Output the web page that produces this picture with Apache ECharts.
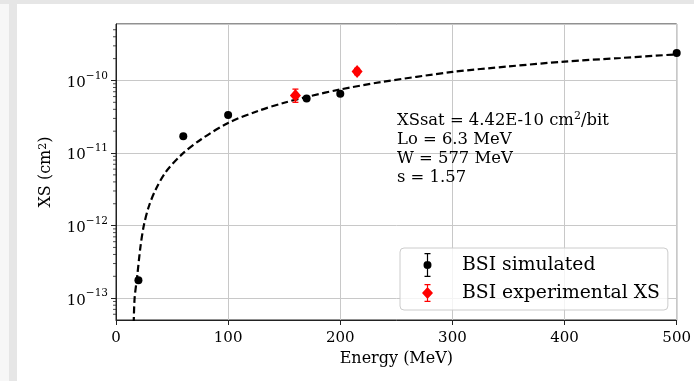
<!DOCTYPE html>
<html>
<head>
<meta charset="utf-8">
<script src="https://cdn.jsdelivr.net/npm/echarts@6/dist/echarts.min.js"></script>
<style>html,body{margin:0;padding:0;background:#fff}#c{width:694px;height:381px}</style>
</head>
<body>
<div id="c"></div>
<script>
// ---- data (cross-section values in cm^2, energies in MeV) ----
var simEnergy = [20, 60, 100, 170, 200, 500];
var simXS = [1.76e-13, 1.7e-11, 3.33e-11, 5.65e-11, 6.55e-11, 2.4e-10];
var expEnergy = [160, 215];
var expXS = [6.2e-11, 1.33e-10];
var expLow = [5.0e-11, 1.2e-10];
var expHigh = [7.6e-11, 1.47e-10];
var fitEnergy = [15.6, 16.5, 18.9, 21.8, 24.8, 29.2, 35.2, 44.1, 58.5, 76, 100, 126, 150, 173, 200, 236, 300, 350, 400, 450, 500];
var fitXS = [3.16e-14, 9.5e-14, 2.0e-13, 5.1e-13, 1.0e-12, 1.82e-12, 3.1e-12, 5.4e-12, 9.5e-12, 1.55e-11, 2.6e-11, 3.77e-11, 4.93e-11, 6.08e-11, 7.52e-11, 9.48e-11, 1.31e-10, 1.56e-10, 1.82e-10, 2.04e-10, 2.29e-10];
var xTicks = [0, 100, 200, 300, 400, 500];
var yMinVal = 5e-14, yMaxVal = 6e-10;
var minorTickVals = [];
[-14, -13, -12, -11, -10].forEach(function (n) {
  for (var k = 2; k <= 9; k++) {
    var v = k * Math.pow(10, n);
    if (v > yMinVal && v < yMaxVal) minorTickVals.push(v);
  }
});
var fitParams = ['XSsat = 4.42E-10 cm{sup|2}/bit', 'Lo = 6.3 MeV', 'W = 577 MeV', 's = 1.57'];

var FONT = 'DejaVu Serif';
var L = Math.log10;
function pairs(xs, ys) { return xs.map(function (x, i) { return [x, L(ys[i])]; }); }

var chart = echarts.init(document.getElementById('c'), null, {renderer: 'canvas'});

var iconSim = 'path://M3,0h6v1.2h-6z M5.4,0h1.2v24h-1.2z M3,22.8h6v1.2h-6z M2,12a4,4 0 1,1 8,0a4,4 0 1,1 -8,0z';
var iconExp = 'path://M6,0L6,0z M3,3h6v1.2h-6z M5.4,3h1.2v18h-1.2z M3,19.8h6v1.2h-6z M6,6L11.5,12L6,18L0.5,12z M6,24L6,24z';

var option = {
  animation: false,
  backgroundColor: '#ffffff',
  graphic: [
    {type: 'rect', shape: {x: 0, y: 0, width: 9, height: 381}, style: {fill: '#f7f7f7'}, z: -10},
    {type: 'rect', shape: {x: 9, y: 0, width: 8, height: 381}, style: {fill: '#e6e6e6'}, z: -10},
    {type: 'rect', shape: {x: 0, y: 0, width: 694, height: 4}, style: {fill: '#e6e6e6'}, z: -10},
    {type: 'text', left: 397, top: 111, z: 50,
      style: {text: fitParams.join('\n'), fontFamily: FONT, fontSize: 16.4, lineHeight: 19.2, fill: '#000',
        rich: {sup: {fontFamily: FONT, fontSize: 11, lineHeight: 11, verticalAlign: 'top', fill: '#000'}}}}
  ],
  grid: {left: 116, top: 24, width: 561, height: 296, show: true, borderColor: '#222', borderWidth: 1, backgroundColor: 'transparent'},
  legend: {
    orient: 'vertical', align: 'left', left: 400, top: 248,
    padding: [5, 8, 5, 22], itemGap: 4, itemWidth: 43, itemHeight: 24,
    backgroundColor: 'rgba(255,255,255,0.8)', borderColor: '#cccccc', borderWidth: 1, borderRadius: 4,
    textStyle: {fontFamily: FONT, fontSize: 18.8, color: '#000', padding: [0, 0, 0, 8]},
    data: [{name: 'BSI simulated', icon: iconSim}, {name: 'BSI experimental XS', icon: iconExp}]
  },
  xAxis: {
    type: 'value', min: 0, max: 500, interval: 100,
    name: 'Energy (MeV)', nameLocation: 'middle', nameGap: 31,
    nameTextStyle: {fontFamily: FONT, fontSize: 16, color: '#000'},
    axisLine: {show: true, lineStyle: {color: '#222', width: 1}},
    axisTick: {show: true, inside: false, length: 5, lineStyle: {color: '#222'}},
    axisLabel: {fontFamily: FONT, fontSize: 15, color: '#000', margin: 11,
      formatter: function (v) { return xTicks.indexOf(v) >= 0 ? String(v) : ''; }},
    splitLine: {show: true, lineStyle: {color: '#c8c8c8', width: 1}}
  },
  yAxis: {
    type: 'value', min: L(yMinVal), max: L(yMaxVal), splitNumber: 4,
    name: 'XS (cm{sup|2})', nameLocation: 'middle', nameGap: 62,
    nameTextStyle: {fontFamily: FONT, fontSize: 16, color: '#000',
      rich: {sup: {fontFamily: FONT, fontSize: 11, lineHeight: 11, verticalAlign: 'top', color: '#000'}}},
    axisLine: {show: true, lineStyle: {color: '#222', width: 1}},
    axisTick: {show: true, inside: false, length: 5, lineStyle: {color: '#222'}},
    axisLabel: {margin: 8, showMinLabel: false, showMaxLabel: false,
      formatter: function (v) {
        var r = Math.round(v);
        if (Math.abs(v - r) > 1e-6) return '';
        return '{b|10}{s|\u2212' + (-r) + '}';
      },
      rich: {
        b: {fontFamily: FONT, fontSize: 15, lineHeight: 20, color: '#000', verticalAlign: 'bottom'},
        s: {fontFamily: FONT, fontSize: 10.5, lineHeight: 12, color: '#000', verticalAlign: 'top'}
      }},
    splitLine: {show: true, lineStyle: {color: '#c8c8c8', width: 1}}
  },
  series: [
    {
      name: 'minorTicks', type: 'custom', silent: true, clip: false, z: 5,
      data: minorTickVals.map(function (v) { return [0, L(v)]; }),
      renderItem: function (params, api) {
        var p = api.coord([0, api.value(1)]);
        return {type: 'line', shape: {x1: p[0] - 3, y1: p[1], x2: p[0], y2: p[1]}, style: {stroke: '#222', lineWidth: 0.8}};
      }
    },
    {
      name: 'fit', type: 'line', data: pairs(fitEnergy, fitXS), showSymbol: false, symbol: 'none',
      smooth: 0.3, clip: true, z: 3,
      lineStyle: {color: '#000', width: 2.2, type: [7, 3.5]}
    },
    {
      name: 'expErr', type: 'custom', silent: true, z: 4,
      data: expEnergy.map(function (e, i) { return [e, L(expLow[i]), L(expHigh[i])]; }),
      renderItem: function (params, api) {
        var lo = api.coord([api.value(0), api.value(1)]);
        var hi = api.coord([api.value(0), api.value(2)]);
        var st = {stroke: '#ff0000', lineWidth: 1.3};
        return {type: 'group', children: [
          {type: 'line', shape: {x1: lo[0], y1: lo[1], x2: hi[0], y2: hi[1]}, style: st},
          {type: 'line', shape: {x1: lo[0] - 3, y1: lo[1], x2: lo[0] + 3, y2: lo[1]}, style: st},
          {type: 'line', shape: {x1: hi[0] - 3, y1: hi[1], x2: hi[0] + 3, y2: hi[1]}, style: st}
        ]};
      }
    },
    {
      name: 'BSI simulated', type: 'scatter', data: pairs(simEnergy, simXS), z: 6,
      symbol: 'circle', symbolSize: 8, itemStyle: {color: '#000000', opacity: 1}
    },
    {
      name: 'BSI experimental XS', type: 'scatter', data: pairs(expEnergy, expXS), z: 6,
      symbol: 'diamond', symbolSize: [11, 13], itemStyle: {color: '#ff0000', opacity: 1}
    }
  ]
};
chart.setOption(option);
</script>
</body>
</html>
